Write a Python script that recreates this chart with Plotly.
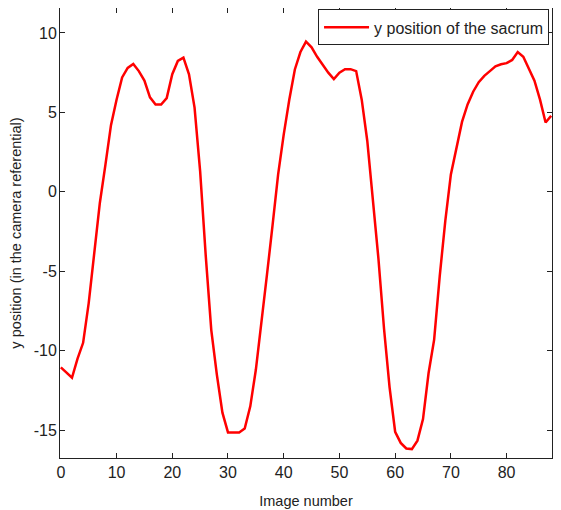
import plotly.graph_objects as go

image_number = list(range(0, 89))
y_position = [
    -11.05, -11.4, -11.7, -10.5, -9.5, -7.0, -3.9, -0.7, 1.7, 4.2,
    5.8, 7.2, 7.8, 8.05, 7.6, 7.0, 5.95, 5.5, 5.5, 5.9,
    7.4, 8.24, 8.45, 7.4, 5.3, 1.3, -4.0, -8.7, -11.5, -13.9,
    -15.14, -15.14, -15.14, -14.9, -13.5, -11.2, -8.3, -5.2, -2.1, 1.1,
    3.6, 5.8, 7.7, 8.8, 9.45, 9.1, 8.5, 8.0, 7.5, 7.1,
    7.5, 7.72, 7.72, 7.6, 5.8, 3.2, -0.3, -4.2, -8.6, -12.3,
    -15.1, -15.8, -16.15, -16.19, -15.66, -14.3, -11.4, -9.3, -5.3, -1.82,
    1.1, 2.85, 4.4, 5.5, 6.3, 6.9, 7.3, 7.6, 7.9, 8.03,
    8.1, 8.3, 8.8, 8.5, 7.8, 7.0, 5.8, 4.36, 4.78,
]
x_ticks = [0, 10, 20, 30, 40, 50, 60, 70, 80]
y_ticks = [-15, -10, -5, 0, 5, 10]
y_tick_labels = ["-15", "-10", "-5", "0", "5", "10"]
series_name = "y position of the sacrum"

FONT = "Liberation Sans, Arial, sans-serif"
INK = "#222222"

fig = go.Figure()
fig.add_trace(go.Scatter(
    x=image_number, y=y_position, mode="lines", name=series_name,
    line=dict(color="#ff0000", width=2.5),
))

axis_common = dict(
    showline=True, linecolor=INK, linewidth=1, mirror="ticks",
    ticks="inside", ticklen=5, tickcolor=INK, tickwidth=1,
    showgrid=False, zeroline=False, automargin=False,
    tickfont=dict(family=FONT, size=16, color=INK),
)

fig.update_layout(
    width=545, height=502,
    margin=dict(l=52, r=1, t=0, b=52),
    paper_bgcolor="white", plot_bgcolor="white",
    showlegend=True,
    legend=dict(
        x=0.994, y=0.997, xanchor="right", yanchor="top",
        bgcolor="white", bordercolor=INK, borderwidth=1,
        itemwidth=45,
        font=dict(family=FONT, size=16, color=INK),
    ),
    xaxis=dict(
        range=[-0.15, 88.15], tickvals=x_ticks,
        title=dict(text="Image number", font=dict(family=FONT, size=14.5, color=INK), standoff=15),
        **axis_common,
    ),
    yaxis=dict(
        range=[-16.75, 11.57], tickvals=y_ticks, ticktext=y_tick_labels,
        ticklabelstandoff=-1,
        title=dict(text="y position (in the camera referential)", font=dict(family=FONT, size=14.5, color=INK), standoff=8),
        **axis_common,
    ),
)

fig.write_html("out.html")
